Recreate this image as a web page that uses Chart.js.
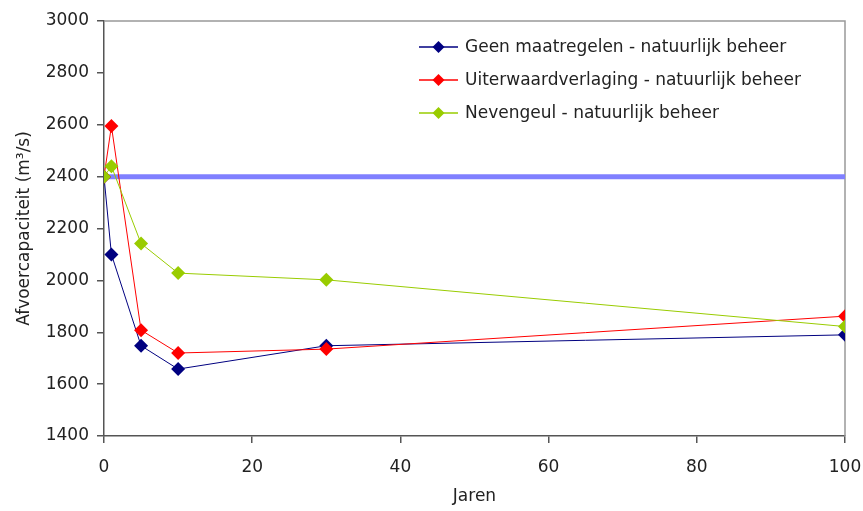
<!DOCTYPE html>
<html>
<head>
<meta charset="utf-8">
<script src="https://cdn.jsdelivr.net/npm/chart.js@4.4.1/dist/chart.umd.min.js"></script>
<style>
  html, body { margin: 0; padding: 0; background: #fff; }
  #wrap { width: 863px; height: 511px; }
</style>
</head>
<body>
<div id="wrap"><canvas id="chart" width="863" height="511"></canvas></div>
<script>
// Data
const jaren = [0, 1, 5, 10, 30, 100];
const geenMaatregelen = [2400, 2100, 1748, 1658, 1748, 1790];
const uiterwaardverlaging = [2400, 2595, 1808, 1720, 1735, 1862];
const nevengeul = [2400, 2440, 2142, 2028, 2002, 1822];
const referentieX = [0, 100];
const referentieY = [2400, 2400];

const seriesNames = [
    'Geen maatregelen - natuurlijk beheer',
    'Uiterwaardverlaging - natuurlijk beheer',
    'Nevengeul - natuurlijk beheer'
];
const seriesColors = ['#000080', '#ff0000', '#99cc00'];

const FONT = '"DejaVu Sans", sans-serif';
const FSIZE = 17;

function toPoints(xs, ys) {
    return xs.map((x, i) => ({ x: x, y: ys[i] }));
}

function serie(label, values, color, order) {
    return {
        label: label,
        data: toPoints(jaren, values),
        borderColor: color,
        backgroundColor: color,
        borderWidth: 1,
        pointStyle: 'rectRot',
        pointRadius: 7,
        pointHoverRadius: 7,
        pointBorderWidth: 0,
        tension: 0,
        order: order
    };
}

// Legend inside plot area, line with diamond sample
const legendPlugin = {
    id: 'insideLegend',
    afterDraw(chart) {
        const c = chart.ctx;
        c.save();
        c.font = FSIZE + 'px ' + FONT;
        c.textBaseline = 'middle';
        const rows = [47, 80, 113];
        seriesNames.forEach((name, i) => {
            const y = rows[i];
            c.strokeStyle = seriesColors[i];
            c.lineWidth = 1.5;
            c.beginPath();
            c.moveTo(419, y);
            c.lineTo(458, y);
            c.stroke();
            c.fillStyle = seriesColors[i];
            c.beginPath();
            c.moveTo(438.5, y - 6);
            c.lineTo(444.5, y);
            c.lineTo(438.5, y + 6);
            c.lineTo(432.5, y);
            c.closePath();
            c.fill();
            c.fillStyle = '#222';
            c.fillText(name, 465, y + 1);
        });
        c.restore();
    }
};

// Gray frame on top and right of the plot area
const framePlugin = {
    id: 'frame',
    beforeDatasetsDraw(chart) {
        const a = chart.chartArea;
        const c = chart.ctx;
        c.save();
        c.strokeStyle = '#999';
        c.lineWidth = 1.5;
        c.beginPath();
        c.moveTo(a.left, a.top);
        c.lineTo(a.right, a.top);
        c.lineTo(a.right, a.bottom);
        c.stroke();
        c.restore();
    }
};

new Chart(document.getElementById('chart').getContext('2d'), {
    type: 'line',
    data: {
        datasets: [
            {
                label: 'referentie',
                data: toPoints(referentieX, referentieY),
                borderColor: '#8080ff',
                borderWidth: 5,
                pointRadius: 0,
                order: 10
            },
            serie(seriesNames[0], geenMaatregelen, seriesColors[0], 3),
            serie(seriesNames[1], uiterwaardverlaging, seriesColors[1], 2),
            serie(seriesNames[2], nevengeul, seriesColors[2], 1)
        ]
    },
    options: {
        responsive: false,
        animation: false,
        events: [],
        layout: { padding: { left: 0, right: 18, top: 21, bottom: 0 } },
        plugins: {
            legend: { display: false },
            tooltip: { enabled: false }
        },
        scales: {
            x: {
                type: 'linear',
                min: 0,
                max: 100,
                ticks: { stepSize: 20, color: '#222', font: { family: FONT, size: FSIZE }, padding: 14,
                         callback: v => String(v) },
                grid: { drawOnChartArea: false, tickLength: 7, color: '#555', lineWidth: 1.5 },
                border: { display: true, color: '#555', width: 1.5 },
                title: { display: true, text: 'Jaren', color: '#222', font: { family: FONT, size: FSIZE }, padding: { top: 4 } },
                afterFit(scale) {
                    scale.height = 75;
                    scale.paddingLeft = 0;
                    scale.paddingRight = 0;
                }
            },
            y: {
                min: 1400,
                max: 3000,
                ticks: { stepSize: 200, color: '#222', font: { family: FONT, size: FSIZE }, padding: 8,
                         callback: v => String(v) },
                grid: { drawOnChartArea: false, tickLength: 7, color: '#555', lineWidth: 1.5 },
                border: { display: true, color: '#555', width: 1.5 },
                title: { display: true, text: 'Afvoercapaciteit (m³/s)', color: '#222', font: { family: FONT, size: FSIZE }, padding: { top: 14, bottom: 4 } },
                afterFit(scale) { scale.width = 104; }
            }
        }
    },
    plugins: [framePlugin, legendPlugin]
});
</script>
</body>
</html>
